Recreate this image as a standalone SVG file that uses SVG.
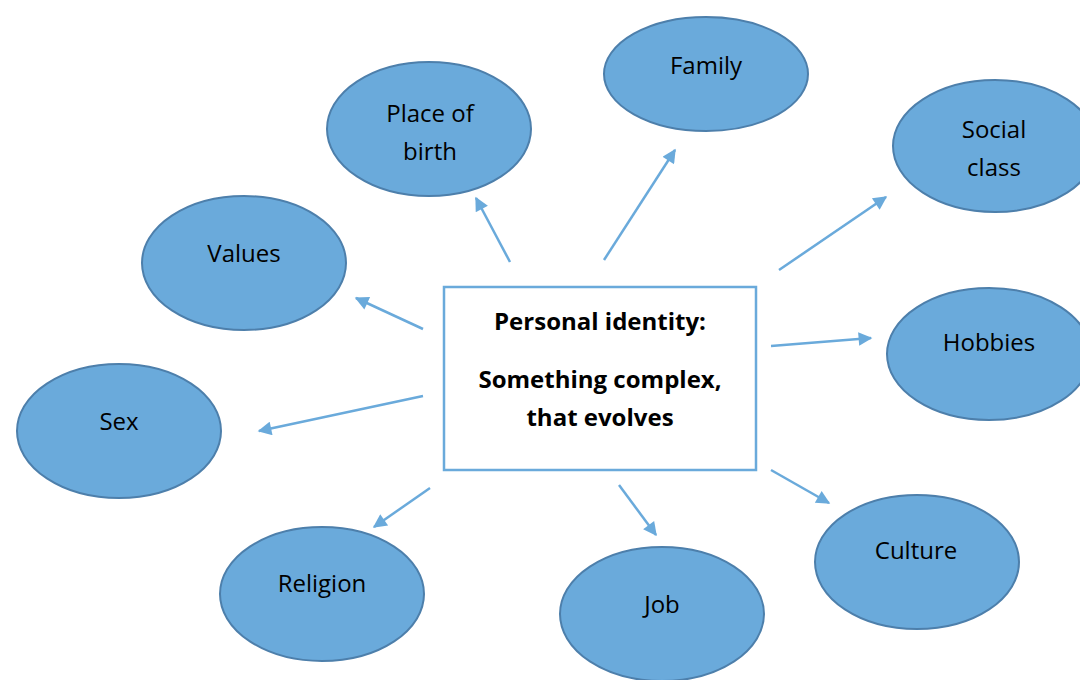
<svg xmlns="http://www.w3.org/2000/svg" width="1080" height="680" viewBox="0 0 1080 680">
<style>
.node ellipse{fill:#6aaadb;stroke:#4d7fab;stroke-width:2}
.lbl{font-family:"Open Sans",Lato,"Liberation Sans",sans-serif;font-size:24px;fill:#000;text-anchor:middle;dominant-baseline:central}
.conn line{stroke:#6aaadb;stroke-width:2.5;marker-end:url(#ah)}
.ctr{font-family:"Open Sans",Lato,"Liberation Sans",sans-serif;font-size:24px;font-weight:bold;fill:#000;text-anchor:middle;dominant-baseline:central}
</style>
<defs>
<marker id="ah" viewBox="0 0 10 10" refX="9" refY="5" markerWidth="6.5" markerHeight="5.5" orient="auto" markerUnits="strokeWidth">
<path d="M0,0 L10,5 L0,10 z" fill="#6aaadb"/>
</marker>
</defs>
<rect width="1080" height="680" fill="#fff"/>
<g id="connectors" class="conn">
<line x1="510" y1="262" x2="476" y2="198"/>
<line x1="604" y1="260" x2="675" y2="150"/>
<line x1="779" y1="270" x2="886" y2="197"/>
<line x1="423" y1="329" x2="356" y2="298"/>
<line x1="771" y1="346" x2="871" y2="338"/>
<line x1="423" y1="396" x2="259" y2="431"/>
<line x1="430" y1="488" x2="374" y2="527"/>
<line x1="619" y1="485" x2="656" y2="535"/>
<line x1="771" y1="470" x2="829" y2="503"/>
</g>
<g id="center">
<rect x="444" y="287" width="312" height="183" fill="#fff" stroke="#6aaadb" stroke-width="2.5"/>
<text class="ctr" x="600" y="320">Personal identity:</text>
<text class="ctr" x="600" y="378">Something complex,</text>
<text class="ctr" x="600" y="416">that evolves</text>
</g>
<g id="family" class="node"><ellipse cx="706" cy="74" rx="102" ry="57"/><text class="lbl" x="706" y="64">Family</text></g>
<g id="place-of-birth" class="node"><ellipse cx="429" cy="129" rx="102" ry="67"/><text class="lbl" x="430" y="112">Place of</text><text class="lbl" x="430" y="150">birth</text></g>
<g id="social-class" class="node"><ellipse cx="995" cy="146" rx="102" ry="66"/><text class="lbl" x="994" y="128">Social</text><text class="lbl" x="994" y="166">class</text></g>
<g id="values" class="node"><ellipse cx="244" cy="263" rx="102" ry="67"/><text class="lbl" x="244" y="252">Values</text></g>
<g id="hobbies" class="node"><ellipse cx="989" cy="354" rx="102" ry="66"/><text class="lbl" x="989" y="341">Hobbies</text></g>
<g id="sex" class="node"><ellipse cx="119" cy="431" rx="102" ry="67"/><text class="lbl" x="119" y="420">Sex</text></g>
<g id="religion" class="node"><ellipse cx="322" cy="594" rx="102" ry="67"/><text class="lbl" x="322" y="582">Religion</text></g>
<g id="job" class="node"><ellipse cx="662" cy="614" rx="102" ry="67"/><text class="lbl" x="662" y="603">Job</text></g>
<g id="culture" class="node"><ellipse cx="917" cy="562" rx="102" ry="67"/><text class="lbl" x="916" y="549">Culture</text></g>
</svg>
